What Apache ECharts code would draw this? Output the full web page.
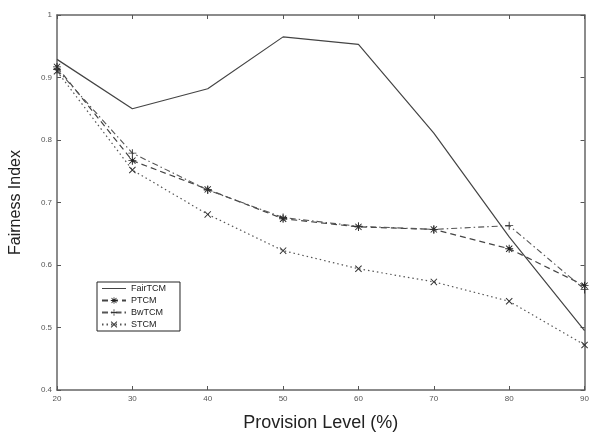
<!DOCTYPE html>
<html>
<head>
<meta charset="utf-8">
<script src="https://cdn.jsdelivr.net/npm/echarts@6/dist/echarts.min.js"></script>
<style>
  html, body { margin: 0; padding: 0; background: #fff; }
  #chart { width: 592px; height: 437px; }
</style>
</head>
<body>
<div id="chart"></div>
<script>
var provision = [20, 30, 40, 50, 60, 70, 80, 90]
var fairTCM = [0.929, 0.850, 0.882, 0.965, 0.953, 0.811, 0.645, 0.495]
var pTCM = [0.917, 0.767, 0.721, 0.674, 0.661, 0.657, 0.626, 0.567]
var bwTCM = [0.913, 0.779, 0.720, 0.676, 0.662, 0.657, 0.663, 0.561]
var sTCM = [0.910, 0.752, 0.681, 0.623, 0.594, 0.573, 0.542, 0.472]
var yTicks = [0.4, 0.5, 0.6, 0.7, 0.8, 0.9, 1]

var plusPath = 'path://M4.4,0H5.6V4.4H10V5.6H5.6V10H4.4V5.6H0V4.4H4.4Z'
var crossPath = 'path://M1,0L5,4L9,0L10,1L6,5L10,9L9,10L5,6L1,10L0,9L4,5L0,1Z'
var starPath = 'path://M4.4,0H5.6V4.4H10V5.6H5.6V10H4.4V5.6H0V4.4H4.4ZM1.5,0.7L5,4.2L8.5,0.7L9.3,1.5L5.8,5L9.3,8.5L8.5,9.3L5,5.8L1.5,9.3L0.7,8.5L4.2,5L0.7,1.5Z'

var lineColor = '#444'
var chart = echarts.init(document.getElementById('chart'))

function pairs(vals) {
  return vals.map(function (v, i) { return [provision[i], v] })
}

var tickStyle = { show: true, inside: true, length: 4, lineStyle: { color: '#555' } }
var axisLine = { show: true, lineStyle: { color: '#666', width: 1.5 } }

chart.setOption({
  animation: false,
  grid: { left: 53, right: 6, top: 15, bottom: 41 },
  legend: {
    left: 97,
    top: 282,
    orient: 'vertical',
    itemGap: 3,
    itemWidth: 24,
    itemHeight: 8,
    padding: [2, 14, 2, 4],
    borderColor: '#222',
    borderWidth: 1,
    backgroundColor: '#fff',
    textStyle: { fontSize: 9, color: '#222', fontFamily: 'Liberation Sans' },
    data: [
      { name: 'FairTCM', icon: 'path://M0,0H24V1H0Z' },
      'PTCM', 'BwTCM', 'STCM'
    ]
  },
  xAxis: [{
    type: 'value',
    min: 20,
    max: 90,
    interval: 10,
    name: 'Provision Level (%)',
    nameLocation: 'middle',
    nameGap: 24,
    nameTextStyle: { fontSize: 18, color: '#222', fontFamily: 'Liberation Sans' },
    axisLine: axisLine,
    axisTick: tickStyle,
    axisLabel: { fontSize: 8, color: '#555', margin: 5 },
    splitLine: { show: false }
  }, {
    type: 'value',
    position: 'top',
    min: 20,
    max: 90,
    interval: 10,
    axisLine: axisLine,
    axisTick: tickStyle,
    axisLabel: { show: false },
    splitLine: { show: false }
  }],
  yAxis: [{
    type: 'value',
    min: yTicks[0],
    max: yTicks[yTicks.length - 1],
    interval: 0.1,
    name: 'Fairness Index',
    nameLocation: 'middle',
    nameGap: 33,
    nameTextStyle: { fontSize: 16, color: '#222', fontFamily: 'Liberation Sans' },
    axisLine: axisLine,
    axisTick: tickStyle,
    axisLabel: {
      fontSize: 8, color: '#555', margin: 5,
      formatter: function (v) { return +v.toFixed(1) + '' }
    },
    splitLine: { show: false }
  }, {
    type: 'value',
    position: 'right',
    min: yTicks[0],
    max: yTicks[yTicks.length - 1],
    interval: 0.1,
    axisLine: axisLine,
    axisTick: tickStyle,
    axisLabel: { show: false },
    splitLine: { show: false }
  }],
  series: [{
    name: 'FairTCM',
    type: 'line',
    data: pairs(fairTCM),
    symbol: 'none',
    lineStyle: { color: lineColor, width: 1.2, type: 'solid' },
    itemStyle: { color: lineColor }
  }, {
    name: 'PTCM',
    type: 'line',
    data: pairs(pTCM),
    symbol: starPath,
    symbolSize: 8,
    lineStyle: { color: lineColor, width: 1.2, type: [6, 4] },
    itemStyle: { color: '#222' }
  }, {
    name: 'BwTCM',
    type: 'line',
    data: pairs(bwTCM),
    symbol: plusPath,
    symbolSize: 8,
    lineStyle: { color: '#555', width: 1.1, type: [6, 3, 1.5, 3] },
    itemStyle: { color: '#333' }
  }, {
    name: 'STCM',
    type: 'line',
    data: pairs(sTCM),
    symbol: crossPath,
    symbolSize: 7,
    lineStyle: { color: '#555', width: 1.2, type: [1.5, 3] },
    itemStyle: { color: '#333' }
  }]
})
</script>
</body>
</html>
